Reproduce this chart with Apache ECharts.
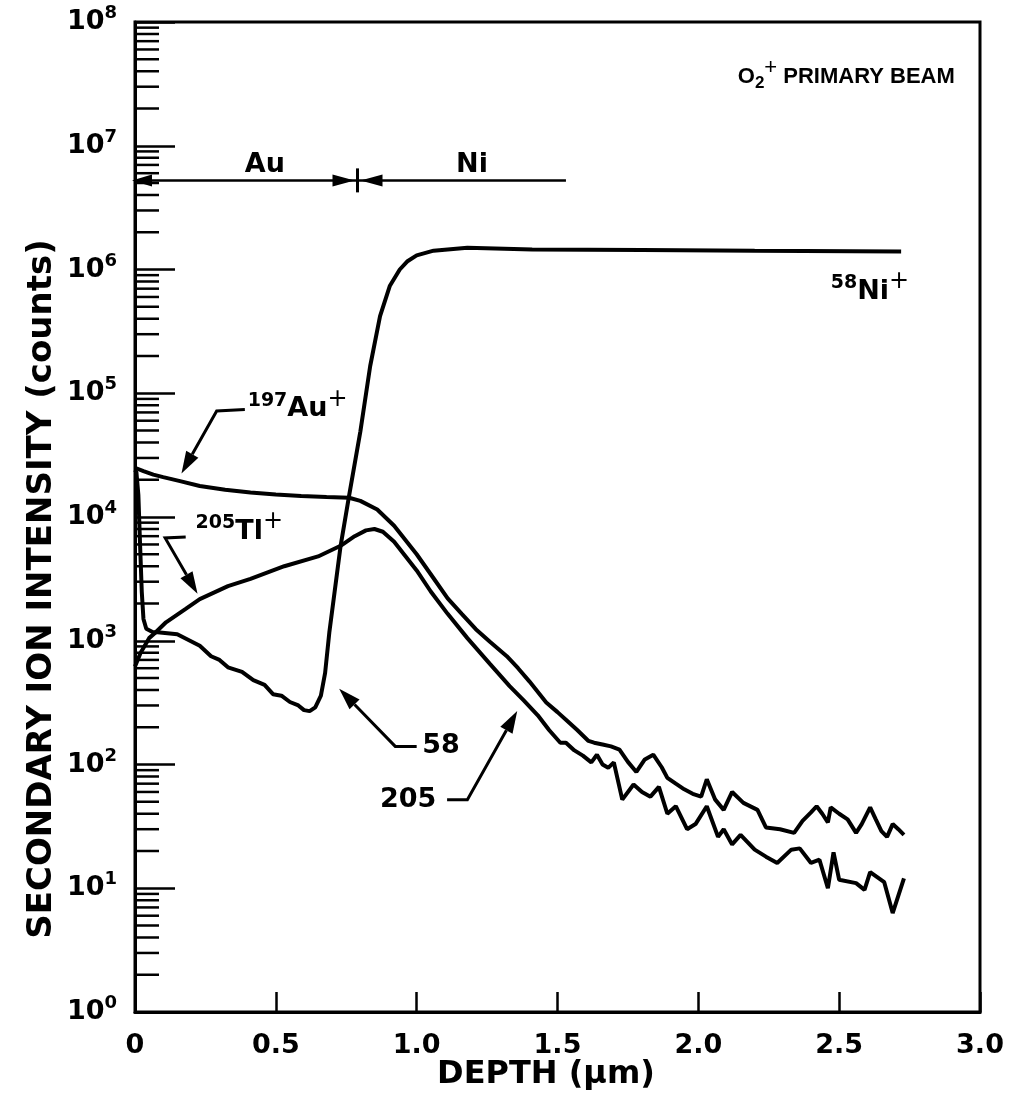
<!DOCTYPE html>
<html>
<head>
<meta charset="utf-8">
<script src="https://cdn.jsdelivr.net/npm/echarts@6/dist/echarts.min.js"></script>
<style>
html,body{margin:0;padding:0;background:#fff;}
#chart{width:1009px;height:1095px;}
</style>
</head>
<body>
<div id="chart"></div>
<script>
// ---------------- data (depth in µm, intensity in counts) ----------------
const xTickValues = [0, 0.5, 1.0, 1.5, 2.0, 2.5, 3.0];
const yDecadeExponents = [0, 1, 2, 3, 4, 5, 6, 7, 8];
const yMinorMantissas = [2, 3, 4, 5, 6, 7, 8, 9];

const ni58Depth = [0, 0.005, 0.012, 0.018, 0.024, 0.03, 0.04, 0.064, 0.08, 0.15, 0.23, 0.27, 0.30, 0.33, 0.38, 0.42, 0.46, 0.49, 0.52, 0.55, 0.58, 0.60, 0.62, 0.64, 0.66, 0.675, 0.69, 0.73, 0.76, 0.80, 0.835, 0.87, 0.905, 0.94, 0.966, 1.0, 1.06, 1.18, 1.41, 1.8, 2.2, 2.72];
const ni58Counts = [24000, 23000, 15000, 6000, 2500, 1500, 1250, 1170, 1170, 1130, 910, 750, 700, 610, 560, 480, 440, 370, 360, 320, 300, 275, 270, 290, 360, 550, 1170, 5850, 14800, 49000, 166000, 420000, 740000, 1000000, 1160000, 1300000, 1420000, 1500000, 1450000, 1440000, 1420000, 1400000];

const au197Depth = [0, 0.03, 0.065, 0.1, 0.16, 0.23, 0.32, 0.41, 0.5, 0.59, 0.68, 0.76, 0.80, 0.86, 0.92, 1.0, 1.06, 1.11, 1.16, 1.21, 1.26, 1.32, 1.36, 1.40, 1.46, 1.50, 1.53, 1.57, 1.61, 1.63, 1.66, 1.69, 1.72, 1.75, 1.78, 1.81, 1.84, 1.87, 1.89, 1.92, 1.95, 1.98, 2.01, 2.03, 2.06, 2.09, 2.12, 2.16, 2.21, 2.24, 2.29, 2.34, 2.37, 2.40, 2.42, 2.44, 2.46, 2.47, 2.50, 2.53, 2.56, 2.58, 2.61, 2.63, 2.65, 2.67, 2.69, 2.71, 2.73];
const au197Counts = [25000, 23500, 22000, 21000, 19500, 17800, 16600, 15800, 15200, 14800, 14500, 14300, 13500, 11500, 8500, 5000, 3200, 2200, 1650, 1240, 980, 750, 600, 470, 317, 265, 230, 190, 155, 150, 145, 140, 132, 105, 87, 110, 120, 95, 78, 70, 63, 58, 55, 76, 52, 43, 60, 49, 43, 31, 30, 28, 35, 41, 46, 40, 34, 45, 40, 36, 28, 33, 45, 36, 29, 26, 33, 30, 27];

const tl205Depth = [0, 0.02, 0.05, 0.07, 0.11, 0.18, 0.23, 0.33, 0.41, 0.53, 0.65, 0.73, 0.78, 0.82, 0.85, 0.88, 0.92, 1.0, 1.05, 1.11, 1.18, 1.26, 1.33, 1.38, 1.43, 1.47, 1.51, 1.53, 1.56, 1.59, 1.62, 1.64, 1.66, 1.68, 1.70, 1.73, 1.77, 1.80, 1.83, 1.86, 1.89, 1.92, 1.96, 1.99, 2.03, 2.07, 2.09, 2.12, 2.15, 2.20, 2.24, 2.28, 2.33, 2.36, 2.40, 2.43, 2.46, 2.48, 2.50, 2.56, 2.59, 2.61, 2.66, 2.69, 2.73];
const tl205Counts = [620, 800, 1050, 1150, 1410, 1810, 2170, 2760, 3160, 4000, 4800, 5850, 7000, 7800, 8000, 7600, 6300, 3700, 2500, 1650, 1050, 650, 430, 330, 250, 190, 150, 150, 130, 118, 104, 120, 100, 94, 104, 52, 69, 60, 55, 66, 40, 46, 30, 33, 46, 26, 30, 22.6, 27, 20.5, 18, 16, 20.5, 21, 16, 17, 10, 19.5, 11.7, 11, 9.7, 13.5, 11.2, 6.3, 12];

// ---------------- annotations (anchors in data units: [depth, counts]) ----------------
const beamLabelAt = [2.14, 3.6e7];
const layerBarCounts = 5.25e6;
const layerBarStart = 0;
const layerBarEnd = 1.53;
const layerInterface = 0.79;
const auLayerLabelAt = [0.39, 7.0e6];
const niLayerLabelAt = [1.14, 7.0e6];
const ni58EndLabelAt = [2.47, 6.6e5];
const au197LabelAt = [0.40, 7.4e4];
const au197ArrowPath = [[0.39, 7.4e4], [0.29, 7.2e4], [0.165, 2.25e4]];
const tl205LabelAt = [0.215, 7600];
const tl205ArrowPath = [[0.18, 6900], [0.107, 6770], [0.222, 2400]];
const ni58ShortLabelAt = [1.02, 140];
const ni58ArrowPath = [[1.0, 140], [0.924, 140], [0.725, 410]];
const tl205ShortLabelAt = [0.87, 52];
const tl205ArrowPath2 = [[1.108, 52], [1.18, 52], [1.357, 270]];

// ---------------- chart ----------------
const F = '"DejaVu Sans", "Liberation Sans", sans-serif';
const FH = '"Liberation Sans", Arial, sans-serif';
const BLACK = '#000';

function pairs(xs, ys) { return xs.map((x, i) => [x, ys[i]]); }

const richBase = { fontFamily: F, fontWeight: 'bold', fontSize: 27, fill: BLACK };
const richSup = { fontFamily: F, fontWeight: 'bold', fontSize: 19, fill: BLACK, padding: [0, 0, 17, 0] };
const richPlus = { fontFamily: F, fontWeight: 'normal', fontSize: 24, fill: BLACK, padding: [0, 0, 20, 0] };

function renderDecor(params, api) {
  const ch = [];
  const lw = 2.5;
  // log minor ticks on the left axis
  const xLeft = api.coord([0, 1])[0];
  yDecadeExponents.slice(0, -1).forEach(e => {
    yMinorMantissas.forEach(m => {
      const p = api.coord([0, m * Math.pow(10, e)]);
      ch.push({ type: 'line', shape: { x1: xLeft, y1: p[1], x2: xLeft + 24, y2: p[1] }, style: { stroke: BLACK, lineWidth: lw } });
    });
  });

  function head(tip, from, len, half) {
    const dx = tip[0] - from[0], dy = tip[1] - from[1];
    const L = Math.hypot(dx, dy) || 1;
    const ux = dx / L, uy = dy / L;
    const bx = tip[0] - ux * len, by = tip[1] - uy * len;
    ch.push({ type: 'polygon', shape: { points: [tip, [bx - uy * half, by + ux * half], [bx + uy * half, by - ux * half]] }, style: { fill: BLACK } });
    return [bx, by];
  }
  function arrow(path) {
    const pts = path.map(p => api.coord(p));
    const n = pts.length;
    const base = head(pts[n - 1], pts[n - 2], 22, 7);
    ch.push({ type: 'polyline', shape: { points: pts.slice(0, n - 1).concat([base]) }, style: { stroke: BLACK, lineWidth: 3, fill: null } });
  }
  function text(at, str, extraRich) {
    const p = api.coord(at);
    ch.push({ type: 'text', x: p[0], y: p[1], style: { text: str, fill: BLACK, align: 'left', verticalAlign: 'middle', font: 'bold 27px ' + F, rich: Object.assign({ b: richBase, s: richSup, p: richPlus }, extraRich || {}) } });
  }

  // layer bar
  const a = api.coord([layerBarStart, layerBarCounts]);
  const b = api.coord([layerBarEnd, layerBarCounts]);
  const m = api.coord([layerInterface, layerBarCounts]);
  ch.push({ type: 'line', shape: { x1: a[0], y1: a[1], x2: b[0], y2: b[1] }, style: { stroke: BLACK, lineWidth: 2.5 } });
  head([a[0] - 3, a[1]], [a[0] + 30, a[1]], 20, 6);
  head([m[0] - 3, m[1]], [m[0] - 40, m[1]], 22, 6);
  head([m[0] + 3, m[1]], [m[0] + 40, m[1]], 22, 6);
  ch.push({ type: 'line', shape: { x1: m[0], y1: m[1] - 12, x2: m[0], y2: m[1] + 12 }, style: { stroke: BLACK, lineWidth: 3 } });

  text(auLayerLabelAt, '{b|Au}');
  text(niLayerLabelAt, '{b|Ni}');
  text(beamLabelAt, '{h|O}{d|2}{q|+}{h| PRIMARY BEAM}', {
    h: { fontFamily: FH, fontWeight: 'bold', fontSize: 22, fill: BLACK },
    d: { fontFamily: FH, fontWeight: 'bold', fontSize: 17, fill: BLACK, padding: [12, 0, 0, 0] },
    q: { fontFamily: FH, fontWeight: 'normal', fontSize: 22, fill: BLACK, padding: [0, 0, 18, 0] }
  });
  text(ni58EndLabelAt, '{s|58}{b|Ni}{p|+}');
  text(au197LabelAt, '{s|197}{b|Au}{p|+}');
  text(tl205LabelAt, '{s|205}{b|Tl}{p|+}');
  text(ni58ShortLabelAt, '{b|58}');
  text(tl205ShortLabelAt, '{b|205}');

  arrow(au197ArrowPath);
  arrow(tl205ArrowPath);
  arrow(ni58ArrowPath);
  arrow(tl205ArrowPath2);

  return { type: 'group', children: ch };
}

const lineStyle = { color: BLACK, width: 4 };

const option = {
  animation: false,
  backgroundColor: '#fff',
  grid: { left: 135, right: 29, top: 22, bottom: 83, show: true, borderColor: BLACK, borderWidth: 3, backgroundColor: 'transparent' },
  graphic: [
    { type: 'text', x: 42, y: 589, rotation: Math.PI / 2, style: { text: 'SECONDARY ION INTENSITY (counts)', fill: BLACK, font: 'bold 34px ' + F, align: 'center', verticalAlign: 'middle' } },
    { type: 'text', x: 546, y: 1075, style: { text: 'DEPTH (μm)', fill: BLACK, font: 'bold 32px ' + F, align: 'center', verticalAlign: 'middle' } }
  ],
  xAxis: {
    type: 'value', min: 0, max: 3, interval: 0.5,
    splitLine: { show: false },
    axisLine: { show: true, onZero: false, lineStyle: { color: BLACK, width: 3 } },
    axisTick: { show: true, inside: true, length: 20, lineStyle: { color: BLACK, width: 2.5 } },
    axisLabel: { margin: 20, formatter: v => (v === 0 ? '0' : v.toFixed(1)), fontFamily: F, fontWeight: 'bold', fontSize: 27, color: BLACK }
  },
  yAxis: {
    type: 'log', logBase: 10, min: 1, max: 1e8, splitNumber: 8,
    splitLine: { show: false },
    axisLine: { show: true, lineStyle: { color: BLACK, width: 3 } },
    axisTick: { show: true, inside: true, length: 40, lineStyle: { color: BLACK, width: 2.5 } },
    axisLabel: {
      margin: 18,
      formatter: v => '{b|10}{s|' + Math.round(Math.log10(v)) + '}',
      rich: { b: { fontFamily: F, fontWeight: 'bold', fontSize: 27, color: BLACK }, s: { fontFamily: F, fontWeight: 'bold', fontSize: 18, color: BLACK, padding: [0, 0, 17, 0] } }
    }
  },
  series: [
    { name: '58Ni+', type: 'line', data: pairs(ni58Depth, ni58Counts), showSymbol: false, lineStyle, z: 3 },
    { name: '197Au+', type: 'line', data: pairs(au197Depth, au197Counts), showSymbol: false, lineStyle, z: 3 },
    { name: '205Tl+', type: 'line', data: pairs(tl205Depth, tl205Counts), showSymbol: false, lineStyle, z: 3 },
    { type: 'custom', coordinateSystem: 'cartesian2d', data: [[0, 1]], renderItem: renderDecor, silent: true, clip: false, z: 4 }
  ]
};

const chart = echarts.init(document.getElementById('chart'), null, { renderer: 'canvas' });
chart.setOption(option);
</script>
</body>
</html>
